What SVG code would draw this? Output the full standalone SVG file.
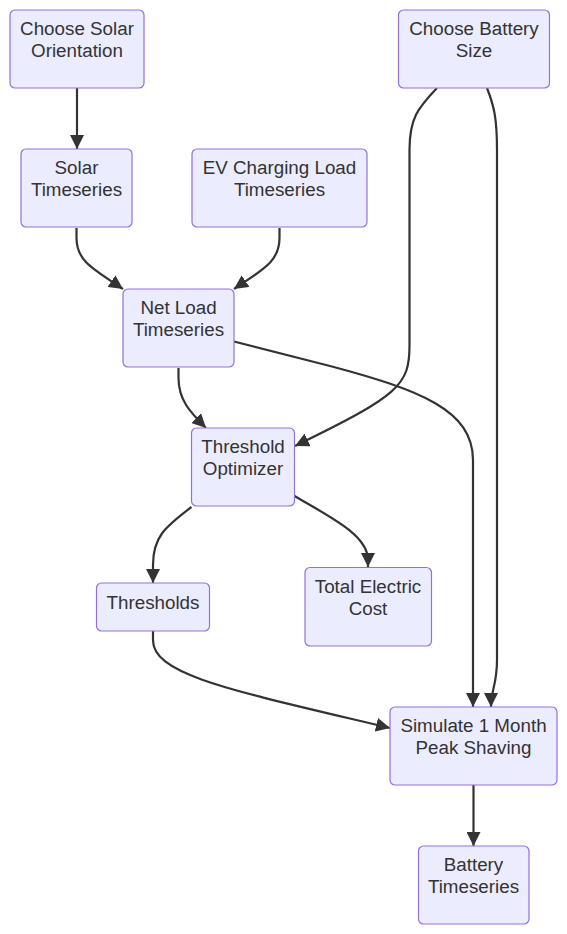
<svg xmlns="http://www.w3.org/2000/svg" width="567" height="934" viewBox="0 0 567 934">
<style>
.node rect{fill:#ECECFF;stroke:#9370DB;stroke-width:1.2}
.node text{font-family:"Liberation Sans",Arial,sans-serif;font-size:18.8px;fill:#333;text-anchor:middle}
.edge{fill:none;stroke:#333;stroke-width:2.2;marker-end:url(#arr)}
</style>
<defs>
<marker id="arr" viewBox="0 0 10 10" refX="10" refY="5" markerUnits="userSpaceOnUse" markerWidth="14" markerHeight="14" orient="auto">
<path d="M0,0 L10,5 L0,10 z" fill="#333"/>
</marker>
</defs>
<rect width="567" height="934" fill="#fff"/>
<g id="connectors">
<path class="edge" d="M77,88 L77,149"/>
<path class="edge" d="M76.5,228 L76.5,238 C76.5,262 95,270 123,289"/>
<path class="edge" d="M279.5,228 L279.5,238 C279.5,262 262,270 234,289"/>
<path class="edge" d="M178.5,368 L178.5,378 C178.5,400 190,412 206,428"/>
<path class="edge" d="M234,341.5 L330,366 C420,390 473,410 473,460 L473,707"/>
<path class="edge" d="M437,88 C418,108 409.5,118 409.5,150 L409.5,345 C409.5,385 400,395 295,446"/>
<path class="edge" d="M487,88 C494,106 497,118 497,150 L497,660 C497,685 491,690 491,707"/>
<path class="edge" d="M191.5,507 C165,527 153,537 153,565 L153,583"/>
<path class="edge" d="M294.5,496 C330,517 368,535 368,560 L368,567"/>
<path class="edge" d="M153,631 L153,640 C153,675 230,690 390,728"/>
<path class="edge" d="M473.5,785 L473.5,846"/>
</g>
<g id="n1" class="node"><rect x="10" y="10" width="134" height="78" rx="5"/><text x="77" y="35">Choose Solar</text><text x="77" y="57">Orientation</text></g>
<g id="n2" class="node"><rect x="398.5" y="10" width="151" height="78" rx="5"/><text x="474" y="35">Choose Battery</text><text x="474" y="57">Size</text></g>
<g id="n3" class="node"><rect x="21" y="149" width="111" height="78" rx="5"/><text x="76.5" y="174">Solar</text><text x="76.5" y="196">Timeseries</text></g>
<g id="n4" class="node"><rect x="192" y="149" width="175" height="78" rx="5"/><text x="279.5" y="174">EV Charging Load</text><text x="279.5" y="196">Timeseries</text></g>
<g id="n5" class="node"><rect x="123" y="289" width="111" height="78" rx="5"/><text x="178.5" y="314">Net Load</text><text x="178.5" y="336">Timeseries</text></g>
<g id="n6" class="node"><rect x="191.5" y="428" width="103" height="78" rx="5"/><text x="243" y="453">Threshold</text><text x="243" y="475">Optimizer</text></g>
<g id="n7" class="node"><rect x="96.5" y="583" width="113" height="48" rx="5"/><text x="153" y="609">Thresholds</text></g>
<g id="n8" class="node"><rect x="305" y="567.5" width="126.5" height="78.5" rx="5"/><text x="368" y="592.5">Total Electric</text><text x="368" y="614.5">Cost</text></g>
<g id="n9" class="node"><rect x="390" y="707" width="167" height="78" rx="5"/><text x="473.5" y="732">Simulate 1 Month</text><text x="473.5" y="754">Peak Shaving</text></g>
<g id="n10" class="node"><rect x="418.5" y="846" width="110.5" height="78" rx="5"/><text x="473.5" y="871">Battery</text><text x="473.5" y="893">Timeseries</text></g>
</svg>
